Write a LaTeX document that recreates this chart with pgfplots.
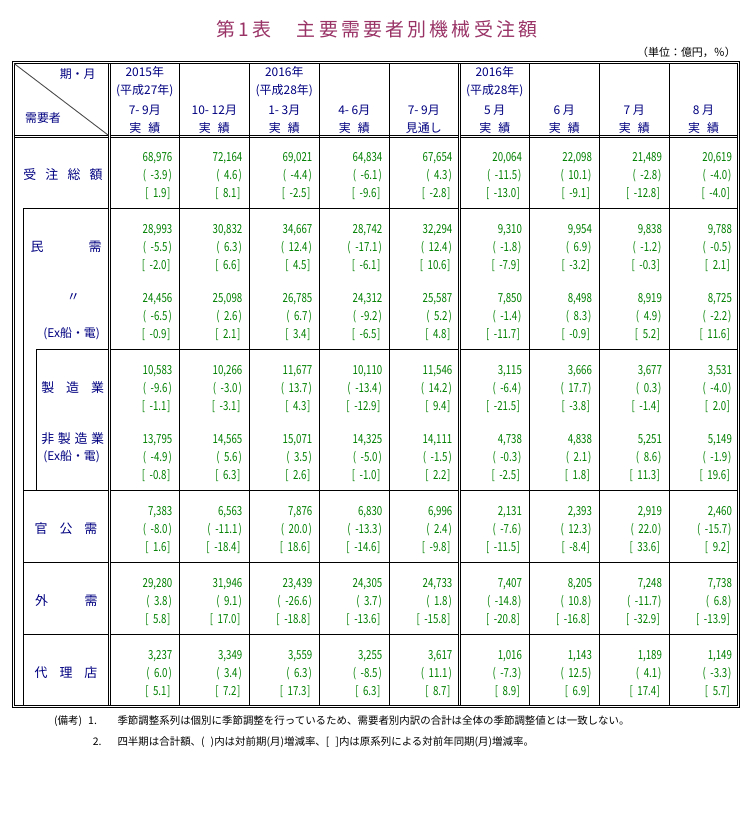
\documentclass[border=0pt]{standalone}
\usepackage{fontspec}
\setmainfont{Noto Sans CJK JP}
\newfontfamily\numfont{Noto Sans CJK JP}[FakeStretch=0.78]
\usepackage{pgfplots}
\usepackage{pgfplotstable}
\pgfplotsset{compat=1.18}
\pgfkeys{/pgf/number format/assume math mode=true}
\definecolor{titlec}{RGB}{153,51,102}
\definecolor{navyc}{RGB}{0,0,128}
\definecolor{greenc}{RGB}{0,128,0}

% col: 1-5 = 2015 7-9, 10-12, 2016 1-3, 4-6, 7-9(見通し); 6-9 = 2016 5,6,7,8月
\pgfplotstableread{
col amt chg yoy
1 68976 -3.9 1.9
2 72164 4.6 8.1
3 69021 -4.4 -2.5
4 64834 -6.1 -9.6
5 67654 4.3 -2.8
6 20064 -11.5 -13.0
7 22098 10.1 -9.1
8 21489 -2.8 -12.8
9 20619 -4.0 -4.0
}\totalT
\pgfplotstableread{
col amt chg yoy
1 28993 -5.5 -2.0
2 30832 6.3 6.6
3 34667 12.4 4.5
4 28742 -17.1 -6.1
5 32294 12.4 10.6
6 9310 -1.8 -7.9
7 9954 6.9 -3.2
8 9838 -1.2 -0.3
9 9788 -0.5 2.1
}\minjuT
\pgfplotstableread{
col amt chg yoy
1 24456 -6.5 -0.9
2 25098 2.6 2.1
3 26785 6.7 3.4
4 24312 -9.2 -6.5
5 25587 5.2 4.8
6 7850 -1.4 -11.7
7 8498 8.3 -0.9
8 8919 4.9 5.2
9 8725 -2.2 11.6
}\minjuexT
\pgfplotstableread{
col amt chg yoy
1 10583 -9.6 -1.1
2 10266 -3.0 -3.1
3 11677 13.7 4.3
4 10110 -13.4 -12.9
5 11546 14.2 9.4
6 3115 -6.4 -21.5
7 3666 17.7 -3.8
8 3677 0.3 -1.4
9 3531 -4.0 2.0
}\seizoT
\pgfplotstableread{
col amt chg yoy
1 13795 -4.9 -0.8
2 14565 5.6 6.3
3 15071 3.5 2.6
4 14325 -5.0 -1.0
5 14111 -1.5 2.2
6 4738 -0.3 -2.5
7 4838 2.1 1.8
8 5251 8.6 11.3
9 5149 -1.9 19.6
}\hiseizoT
\pgfplotstableread{
col amt chg yoy
1 7383 -8.0 1.6
2 6563 -11.1 -18.4
3 7876 20.0 18.6
4 6830 -13.3 -14.6
5 6996 2.4 -9.8
6 2131 -7.6 -11.5
7 2393 12.3 -8.4
8 2919 22.0 33.6
9 2460 -15.7 9.2
}\kankoT
\pgfplotstableread{
col amt chg yoy
1 29280 3.8 5.8
2 31946 9.1 17.0
3 23439 -26.6 -18.8
4 24305 3.7 -13.6
5 24733 1.8 -15.8
6 7407 -14.8 -20.8
7 8205 10.8 -16.8
8 7248 -11.7 -32.9
9 7738 6.8 -13.9
}\gaijuT
\pgfplotstableread{
col amt chg yoy
1 3237 6.0 5.1
2 3349 3.4 7.2
3 3559 6.3 17.3
4 3255 -8.5 6.3
5 3617 11.1 8.7
6 1016 -7.3 8.9
7 1143 12.5 6.9
8 1189 4.1 17.4
9 1149 -3.3 5.7
}\dairiT

\pgfplotsset{
  valnode/.style={draw=none, mark=none, point meta=explicit symbolic, nodes near coords,
    every node near coord/.append style={anchor=base east, inner sep=0pt, outer sep=0pt,
      yshift=-4.5bp, font=\numfont\fontsize{12.5}{13}\selectfont, text=greenc}},
  amtstyle/.style={valnode,
    nodes near coords={\pgfmathprintnumber[fixed,precision=0,1000 sep={,}]{\pgfplotspointmeta}}},
  chgstyle/.style={valnode,
    nodes near coords={(\hspace{4.5bp}\pgfmathprintnumber[fixed,fixed zerofill,precision=1]{\pgfplotspointmeta}\hspace{1bp})},
    every node near coord/.append style={xshift=-0.5bp}},
  yoystyle/.style={valnode,
    nodes near coords={[\hspace{4.5bp}\pgfmathprintnumber[fixed,fixed zerofill,precision=1]{\pgfplotspointmeta}\hspace{0.5bp}]},
    every node near coord/.append style={xshift=-2bp}},
}
\newcommand\colx{\thisrow{col}<6 ? 102.3+70*\thisrow{col} : 452+70*(\thisrow{col}-5)}
\newcommand\putgroup[2]{%
  \addplot[amtstyle] table[x expr={\colx}, y expr={#2}, meta=amt]{#1};
  \addplot[chgstyle] table[x expr={\colx}, y expr={#2+18}, meta=chg]{#1};
  \addplot[yoystyle] table[x expr={\colx}, y expr={#2+36}, meta=yoy]{#1};
}
\tikzset{tl/.style={line width=1bp, black},
  lab/.style={text=navyc, font=\fontsize{13}{13}\selectfont, inner sep=0pt},
  hd/.style={text=navyc, font=\fontsize{12}{12}\selectfont, inner sep=0pt}}
\newcommand\hl[2]{\draw[tl] (#2,#1) -- (108.3,#1) (110.3,#1) -- (458.3,#1) (460.3,#1) -- (737.7,#1);}

\begin{document}
\begin{tikzpicture}
\begin{axis}[
  width=753bp, height=820bp, scale only axis,
  xmin=0, xmax=753, ymin=0, ymax=820, y dir=reverse,
  hide axis, clip=false,
]
\path (0,0) rectangle (753,820);
% title
\node[text=titlec, inner sep=0pt, font=\fontsize{19}{19}\selectfont\addfontfeatures{LetterSpace=17}] at (377,29) {第1表　主要需要者別機械受注額};
\node[anchor=east, inner sep=0pt, font=\fontsize{11}{11}\selectfont] at (736,52.3) {（単位：億円，％）};

% frame
\draw[tl] (12.3,61.7) rectangle (739.7,707.3);
\draw[tl] (14.3,63.7) rectangle (737.7,705.3);
\draw[tl] (108.3,63.7) -- (108.3,705.3) (110.3,63.7) -- (110.3,705.3);
\draw[tl] (458.3,63.7) -- (458.3,705.3) (460.3,63.7) -- (460.3,705.3);
\draw[tl] (179.3,63.7) -- (179.3,705.3) (249.3,63.7) -- (249.3,705.3)
          (319.3,63.7) -- (319.3,705.3) (389.3,63.7) -- (389.3,705.3)
          (529.3,63.7) -- (529.3,705.3) (599.3,63.7) -- (599.3,705.3)
          (669.3,63.7) -- (669.3,705.3);
\hl{135.2}{14.3}
\hl{137.4}{14.3}
\hl{208.3}{23.3}
\hl{349.0}{36}
\hl{490.7}{23.3}
\hl{562.3}{23.3}
\hl{634.3}{23.3}
\draw[tl] (23.3,208.3) -- (23.3,705.3);
\draw[tl] (36,349) -- (36,490.7);
\draw[line width=0.9bp, black!70] (14.3,63.7) -- (108.3,135.2);

% header
\node[hd] at (77.7,74.3) {期・月};
\node[hd] at (43,117.7) {需要者};
\node[hd] at (144.8,72.3) {2015年};
\node[hd] at (144.8,91) {(平成27年)};
\node[hd] at (144.8,110) {7- 9月};
\node[hd] at (214.3,110) {10- 12月};
\node[hd] at (284.3,72.3) {2016年};
\node[hd] at (284.3,91) {(平成28年)};
\node[hd] at (284.3,110) {1- 3月};
\node[hd] at (354.3,110) {4- 6月};
\node[hd] at (423.8,110) {7- 9月};
\node[hd] at (494.8,72.3) {2016年};
\node[hd] at (494.8,91) {(平成28年)};
\node[hd] at (494.8,110) {5 月};
\node[hd] at (564.3,110) {6 月};
\node[hd] at (634.3,110) {7 月};
\node[hd] at (703.5,110) {8 月};
\node[hd] at (144.8,128.3) {実\hspace{7bp}績};
\node[hd] at (214.3,128.3) {実\hspace{7bp}績};
\node[hd] at (284.3,128.3) {実\hspace{7bp}績};
\node[hd] at (354.3,128.3) {実\hspace{7bp}績};
\node[hd] at (423.8,128.3) {見通し};
\node[hd] at (494.8,128.3) {実\hspace{7bp}績};
\node[hd] at (564.3,128.3) {実\hspace{7bp}績};
\node[hd] at (634.3,128.3) {実\hspace{7bp}績};
\node[hd] at (703.5,128.3) {実\hspace{7bp}績};

% row labels
\node[lab] at (63,174.3) {\makebox[79.4bp][s]{受\hfill 注\hfill 総\hfill 額}};
\node[lab] at (37,247) {民};
\node[lab] at (95.2,247) {需};
\node[lab] at (73.3,297.7) {〃};
\node[hd] at (71.7,333.7) {(Ex船・電)};
\node[lab] at (72.7,387.3) {\makebox[62.7bp][s]{製\hfill 造\hfill 業}};
\node[lab] at (72.7,439) {\makebox[62.7bp][s]{非\hfill 製\hfill 造\hfill 業}};
\node[hd] at (71.7,457) {(Ex船・電)};
\node[lab] at (66,529) {\makebox[62.6bp][s]{官\hfill 公\hfill 需}};
\node[lab] at (41.7,601) {外};
\node[lab] at (91.2,601) {需};
\node[lab] at (66,672.7) {\makebox[62.6bp][s]{代\hfill 理\hfill 店}};

% data
\putgroup{\totalT}{156.7}
\putgroup{\minjuT}{229.3}
\putgroup{\minjuexT}{297.7}
\putgroup{\seizoT}{370}
\putgroup{\hiseizoT}{439}
\putgroup{\kankoT}{511}
\putgroup{\gaijuT}{582.7}
\putgroup{\dairiT}{655}

% notes
\node[anchor=west, inner sep=0pt, font=\fontsize{10.5}{11}\selectfont] at (54,721) {(備考)};
\node[anchor=west, inner sep=0pt, font=\fontsize{10.5}{11}\selectfont] at (88,721) {1.};
\node[anchor=west, inner sep=0pt, font=\fontsize{10.5}{11}\selectfont] at (117.3,721) {季節調整系列は個別に季節調整を行っているため、需要者別内訳の合計は全体の季節調整値とは一致しない。};
\node[anchor=west, inner sep=0pt, font=\fontsize{10.5}{11}\selectfont] at (92.7,742) {2.};
\node[anchor=west, inner sep=0pt, font=\fontsize{10.5}{11}\selectfont] at (117.3,742) {四半期は合計額、(\hspace{6bp})内は対前期(月)増減率、[\hspace{6bp}]内は原系列による対前年同期(月)増減率。};
\end{axis}
\end{tikzpicture}
\end{document}
